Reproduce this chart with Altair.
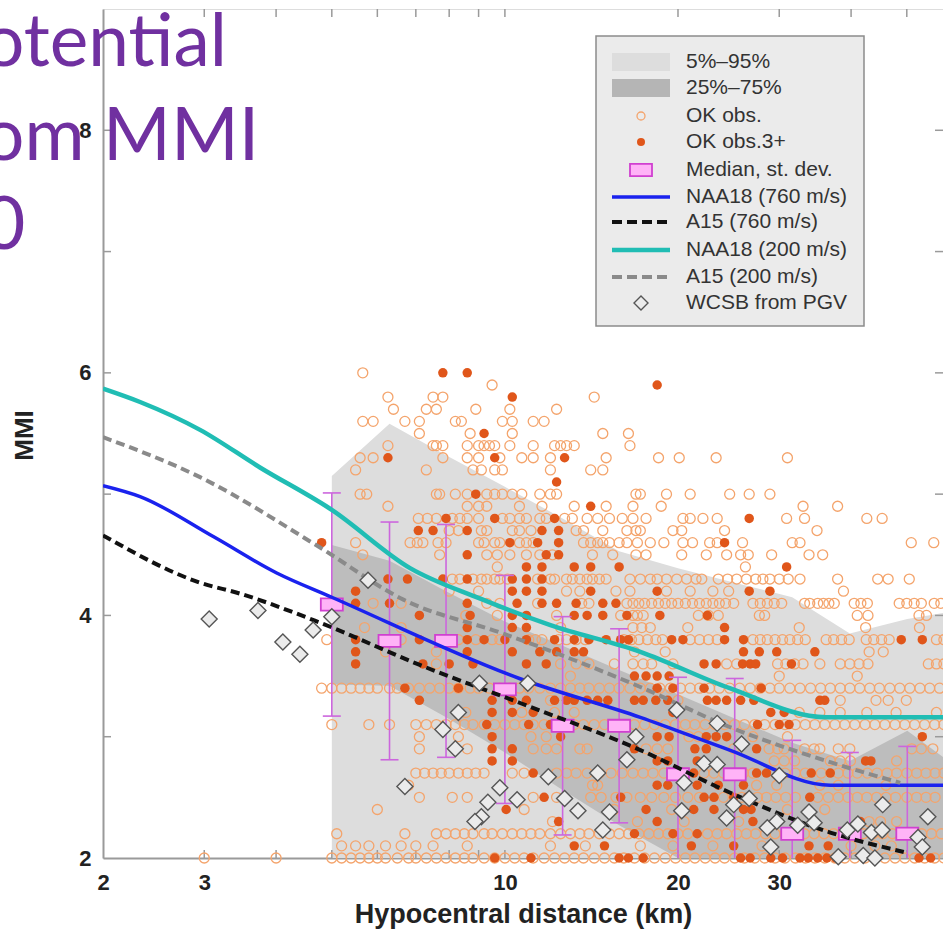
import altair as alt
import pandas as pd

# ---------------- data ----------------
heading_lines = ["otential", "om MMI", "0"]

# percentile bands over log-spaced distance bins (km)
band_km = [5.0, 6.3, 7.9, 10.0, 12.6, 15.8, 20.0, 25.1, 31.6, 39.8, 50.1, 63.1]
band_p05 = [2.0, 2.0, 2.0, 2.0, 2.0, 2.0, 2.0, 2.0, 2.0, 2.0, 2.0, 2.0]
band_p95 = [5.15, 5.58, 5.32, 5.06, 4.80, 4.53, 4.39, 4.27, 4.15, 3.85, 3.97, 4.05]
band_p25 = [3.43, 3.42, 3.16, 2.87, 2.56, 2.27, 2.0, 2.0, 2.0, 2.0, 2.0, 2.0]
band_p75 = [4.58, 4.45, 4.20, 3.95, 3.75, 3.55, 3.35, 3.15, 2.95, 2.80, 3.05, 2.70]

# binned median and standard deviation
median_km = [5.0, 6.3, 7.9, 10.0, 12.6, 15.8, 20.0, 25.1, 31.6, 39.8, 50.1]
median_mmi = [4.09, 3.79, 3.79, 3.39, 3.09, 3.09, 2.69, 2.69, 2.20, 2.20, 2.20]
stdev_mmi = [0.92, 0.98, 0.96, 0.94, 0.90, 0.80, 0.80, 0.79, 0.77, 0.67, 0.72]

# prediction curves
naa18_760_km = [2.0, 2.32, 3.11, 4.01, 5.0, 10.6, 17.2, 24.6, 36.8, 58.0]
naa18_760_mmi = [5.07, 4.98, 4.65, 4.35, 4.15, 3.48, 3.16, 2.89, 2.60, 2.60]
a15_760_km = [2.0, 2.95, 3.46, 4.77, 7.13, 10.6, 17.2, 24.6, 36.8, 49.4]
a15_760_mmi = [4.66, 4.27, 4.18, 3.94, 3.59, 3.28, 2.89, 2.54, 2.21, 2.05]
naa18_200_km = [2.0, 2.32, 2.95, 3.75, 5.0, 6.84, 9.04, 12.0, 17.2, 24.6, 36.2, 58.0]
naa18_200_mmi = [5.87, 5.76, 5.53, 5.22, 4.87, 4.39, 4.14, 3.92, 3.70, 3.40, 3.16, 3.16]
a15_200_km = [2.0, 2.95, 4.77, 6.66, 9.94, 17.2, 24.6, 36.8, 48.7]
a15_200_mmi = [5.47, 5.14, 4.56, 4.13, 3.85, 3.41, 3.08, 2.79, 2.62]

# WCSB intensities converted from PGV
wcsb_km = [3.06, 3.72, 4.11, 4.40, 4.64, 5.0, 5.78, 9.03, 8.3, 7.8, 8.2, 6.7, 10.96,
           9.8, 9.34, 9.1, 8.87, 10.5, 11.9, 12.7, 13.4, 14.5, 16.3, 15.2, 14.8,
           16.9, 19.9, 23.4, 25.8, 30.0, 22.2, 23.4, 20.5, 25.0, 26.6, 20.3, 24.3,
           33.8, 45.4, 54.4, 29.7, 28.6, 32.3, 34.5, 41.1, 39.4, 43.4, 45.3, 52.3,
           53.2, 29.0, 38.0, 42.0, 44.0]
wcsb_mmi = [3.97, 4.04, 3.78, 3.68, 3.88, 3.99, 4.29, 3.44, 3.2, 3.06, 2.9, 2.59, 3.44,
            2.58, 2.46, 2.34, 2.3, 2.48, 2.67, 2.49, 2.39, 2.7, 2.81, 2.38, 2.23,
            3.0, 3.22, 3.11, 2.94, 2.68, 2.78, 2.77, 2.62, 2.44, 2.49, 2.39, 2.33,
            2.38, 2.44, 2.34, 2.3, 2.25, 2.27, 2.29, 2.28, 2.23, 2.21, 2.23, 2.17,
            2.09, 2.09, 2.01, 2.02, 2.0]

# OK observations: MMI level -> hypocentral distances (km)
ok_obs = {
    2.0: [3.0, 4.0, 5.0, 5.2, 5.4, 5.6, 5.8, 6.0, 6.2, 6.5, 6.8, 7.0, 7.3, 7.6, 7.9, 8.2,
          8.5, 8.8, 9.2, 9.6, 10.0, 10.4, 10.8, 11.2, 11.7, 12.2, 12.7, 13.2, 13.7, 14.3,
          14.9, 15.5, 16.1, 16.8, 17.5, 18.2, 19.0, 19.8, 20.6, 21.4, 22.3, 23.2, 24.1,
          25.1, 26.1, 27.2, 28.3, 29.5, 30.7, 32.0, 33.3, 34.6, 36.0, 37.5, 39.0, 40.6,
          42.3, 44.0, 45.8, 47.7, 49.6, 51.6, 53.7, 55.9, 58.0],
    2.1: [5.2, 5.5, 5.8, 6.2, 6.6, 7.0, 7.5, 8.6, 12.0, 13.8, 17.2, 19.6, 23.0, 28.0,
          40.0, 44.0, 47.0],
    2.2: [5.1, 6.7, 7.6, 7.9, 8.2, 8.5, 8.8, 9.2, 9.5, 9.9, 10.3, 10.7, 11.1, 11.5, 12.0,
          12.5, 13.0, 13.5, 14.0, 14.6, 15.2, 15.8, 16.4, 17.1, 17.8, 18.5, 19.2, 20.0,
          20.8, 22.5, 23.4, 24.3, 25.3, 26.3, 27.3, 28.4, 29.5, 30.7, 31.9, 33.2, 34.5,
          35.9, 37.3, 38.8, 40.4, 42.0, 43.7, 45.4, 47.2, 49.1, 51.1, 53.1, 55.2, 57.4],
    2.3: [12.1, 17.0, 20.5, 25.5, 43.0, 45.0, 48.0],
    2.4: [6.0, 10.8, 15.5, 19.5, 31.0, 36.0],
    2.5: [7.1, 8.1, 8.6, 11.2, 12.3, 14.1, 14.7, 15.6, 16.3, 17.2, 18.0, 18.9, 19.8, 20.8,
          21.8, 24.0, 25.8, 27.5, 28.5, 29.6, 30.8, 32.0, 35.0, 36.5, 38.0, 39.5, 41.0,
          42.6, 44.3, 46.0, 47.8, 50.0, 52.0, 54.0, 56.0],
    2.6: [6.8, 14.2, 14.5, 27.4, 29.7, 35.3, 38.0, 46.0],
    2.7: [7.0, 7.25, 7.5, 7.75, 8.0, 8.3, 8.6, 8.9, 9.2, 10.3, 10.8, 12.3, 12.8, 13.3,
          13.9, 14.6, 15.3, 16.0, 16.7, 17.4, 18.1, 18.9, 19.7, 20.5, 22.2, 23.1, 24.0,
          25.0, 26.0, 27.0, 29.5, 30.7, 32.0, 33.3, 35.5, 38.0, 39.5, 41.0, 42.7, 44.4,
          46.2, 48.0, 50.0, 52.0, 54.0, 56.0, 58.0],
    2.8: [29.4, 30.6, 31.9, 36.8, 38.3, 39.9, 48.0],
    2.9: [7.1, 8.6, 11.2, 11.8, 12.3, 13.5, 13.9, 17.6, 18.4, 19.2, 25.0, 28.8, 29.8,
          30.6, 33.2, 34.5, 35.3, 38.0, 39.8, 51.0, 53.0, 55.5],
    3.0: [7.1, 8.3, 11.1, 11.8, 20.9, 21.7, 27.0, 31.0],
    3.1: [5.0, 5.8, 6.3, 7.0, 7.3, 7.6, 7.9, 8.2, 8.5, 8.8, 9.2, 9.6, 10.0, 10.4, 10.8,
          11.2, 11.7, 12.2, 12.7, 13.2, 13.7, 14.3, 14.9, 15.5, 16.1, 16.8, 17.5, 18.2,
          19.0, 19.8, 20.6, 21.4, 22.3, 23.2, 24.1, 25.1, 26.1, 27.2, 28.3, 29.5, 30.7,
          32.0, 33.3, 34.6, 36.0, 37.5, 39.0, 40.6, 42.3, 44.0, 45.8, 47.7, 49.6, 51.6,
          53.7, 55.9, 58.0],
    3.2: [8.55, 10.7, 12.2, 13.2, 32.5, 35.3, 38.3, 42.6, 47.9, 56.3],
    3.3: [12.0, 20.0, 38.3, 44.2, 46.4, 49.9],
    3.4: [4.8, 5.0, 5.2, 5.4, 5.6, 5.8, 6.0, 6.3, 6.5, 6.8, 7.1, 7.4, 7.7, 8.0, 8.3, 8.7,
          9.0, 9.4, 9.8, 10.2, 10.6, 11.0, 11.5, 12.0, 12.5, 13.0, 13.5, 14.0, 14.6,
          15.2, 15.8, 16.5, 17.2, 17.9, 18.6, 19.4, 20.2, 21.0, 21.8, 22.7, 23.6, 24.6,
          25.6, 26.7, 27.8, 28.9, 30.0, 31.3, 32.6, 34.0, 35.4, 36.8, 38.3, 39.8, 41.4,
          43.1, 44.8, 46.7, 48.6, 50.6, 52.7, 54.8, 57.0],
    3.5: [13.0, 30.0, 41.0],
    3.6: [7.6, 12.5, 13.3, 14.0, 15.5, 16.7, 17.4, 18.0, 19.6, 24.3, 25.3, 29.8, 30.8,
          31.9, 33.0, 35.3, 38.3, 39.8, 41.3, 42.8, 54.5, 56.3, 58.0],
    3.7: [6.2, 7.6, 16.8, 19.0, 43.0, 45.5],
    3.8: [4.9, 6.6, 8.3, 8.9, 9.5, 9.8, 11.0, 11.3, 11.6, 12.4, 12.8, 13.3, 13.8, 16.1,
          16.6, 17.1, 17.7, 18.3, 18.8, 21.0, 21.8, 22.6, 23.4, 27.0, 27.8, 28.6, 29.5,
          30.4, 31.3, 32.3, 33.3, 36.2, 37.3, 38.5, 39.7, 42.5, 43.8, 45.2, 46.6, 56.3,
          58.0],
    3.9: [5.7, 6.6, 12.5, 16.7, 17.3, 17.9, 20.8, 32.5, 42.4, 52.6],
    4.0: [8.55, 9.7, 12.3, 15.9, 16.7, 17.0, 17.4, 21.7, 22.6, 23.5, 27.7, 28.3, 41.0,
          42.8, 52.5, 54.1],
    4.1: [5.9, 6.6, 9.3, 9.8, 11.4, 13.6, 14.0, 16.3, 16.7, 17.1, 17.5, 18.0, 18.5, 19.0,
          19.5, 20.0, 20.6, 21.2, 21.8, 22.4, 23.0, 23.6, 24.2, 25.0, 27.0, 27.8, 28.6,
          29.4, 30.3, 33.2, 33.9, 35.0, 35.8, 36.6, 37.4, 40.5, 41.6, 42.7, 48.5, 50.0,
          51.5, 53.0, 55.8, 57.3],
    4.2: [8.0, 9.0, 12.8, 13.5, 15.6, 16.5, 19.1, 21.0, 23.0, 24.5, 38.8],
    4.3: [8.1, 8.35, 8.8, 9.1, 9.3, 9.6, 9.8, 10.1, 11.4, 12.0, 12.2, 12.8, 13.1, 13.5,
          13.9, 14.2, 14.6, 15.0, 16.5, 17.2, 17.9, 18.4, 19.1, 19.9, 20.7, 21.5, 22.0,
          23.5, 24.4, 25.3, 26.3, 27.3, 28.1, 28.9, 30.0, 31.1, 32.6, 37.9, 44.5, 46.4,
          50.5],
    4.4: [9.7, 26.2],
    4.5: [5.66, 7.7, 9.3, 9.7, 10.2, 10.9, 11.5, 12.1, 14.2, 15.4, 16.9, 17.6, 20.3,
          22.4, 24.3, 25.7, 26.5, 29.1, 33.8, 35.7],
    4.6: [5.5, 6.84, 7.04, 7.2, 7.65, 7.9, 9.0, 9.2, 9.6, 9.8, 10.6, 10.9, 11.2, 13.7,
          14.1, 14.5, 14.8, 15.2, 15.8, 16.3, 17.0, 17.9, 18.9, 20.4, 21.2, 22.7, 23.4,
          25.9, 31.6, 32.6, 50.9, 55.7],
    4.7: [8.0, 8.3, 9.1, 9.3, 10.3, 10.6, 11.1, 13.3, 13.7, 14.8, 16.3, 16.9, 17.2, 19.6,
          20.3, 24.1, 34.9],
    4.8: [7.07, 7.33, 7.6, 8.1, 8.35, 8.6, 9.0, 9.9, 10.2, 10.6, 10.9, 11.5, 11.8, 12.7,
          13.1, 13.9, 14.5, 15.2, 16.0, 16.7, 17.6, 20.4, 21.0, 22.1, 23.4, 30.9, 33.2,
          42.6, 45.3],
    4.9: [6.26, 8.6, 9.0, 9.3, 10.6, 11.6, 13.2, 15.0, 16.7, 18.7, 33.0, 37.9],
    5.0: [5.6, 5.75, 7.6, 7.7, 8.2, 8.6, 9.3, 9.6, 9.9, 10.3, 10.7, 11.5, 12.0, 12.3,
          16.9, 17.2, 19.1, 21.0, 24.6, 26.6, 28.9],
    5.2: [5.5, 7.3, 8.8, 9.1, 9.6, 9.9, 12.0, 14.1, 14.8],
    5.3: [5.6, 5.9, 7.8, 8.6, 9.0, 9.8, 10.7, 11.2, 12.0, 15.0, 18.5, 20.1, 23.3, 31.0],
    5.4: [6.26, 7.5, 7.6, 7.8, 8.6, 9.0, 9.2, 9.4, 9.6, 10.2, 11.2, 12.2, 12.5, 12.8,
          13.2, 16.5],
    5.5: [7.1, 8.7, 10.3, 14.8, 16.4],
    5.6: [5.66, 5.9, 6.7, 7.1, 8.2, 8.4, 9.9, 10.3, 11.2, 11.7],
    5.7: [6.4, 7.3, 7.6, 8.9, 10.2, 12.3],
    5.8: [6.26, 7.5, 7.8, 14.3],
    5.9: [9.5],
    6.0: [5.66],
}

# OK observations from 3+ events: MMI level -> hypocentral distances (km)
ok_obs_3plus = {
    2.0: [9.6, 11.1, 15.8, 16.4, 17.4, 25.7, 26.7, 29.0, 30.4, 32.6, 33.7, 35.0, 36.3,
          37.6, 52.5, 55.0],
    2.1: [13.2, 14.9, 21.1, 25.0, 33.8, 36.5],
    2.2: [16.8, 19.6, 21.6],
    2.3: [12.4, 18.4, 27.0, 41.5],
    2.4: [10.05, 17.6, 21.3, 23.1, 26.0, 26.8],
    2.5: [11.7, 15.9, 22.2, 23.1, 25.0, 26.4, 33.9],
    2.6: [18.4, 19.2, 21.6, 23.5, 26.0],
    2.7: [11.2, 14.5, 21.3, 27.4, 28.5, 34.1, 36.8],
    2.8: [9.5, 10.3, 18.4, 19.2, 21.6, 42.4, 43.3],
    2.9: [9.5, 10.3, 16.8, 21.4, 22.4, 27.4],
    3.0: [9.5, 12.5, 18.4, 19.3, 22.4, 23.3, 24.3, 53.2],
    3.1: [9.3, 11.0, 12.0, 27.5, 30.0, 31.2],
    3.2: [9.5, 10.3, 11.2, 19.6, 29.0, 30.6],
    3.3: [7.1, 9.5, 10.3, 10.9, 12.2, 12.8, 13.2, 13.9, 14.5, 15.1, 16.8, 17.4, 18.3,
          19.2, 22.5, 23.3, 24.3, 25.7, 27.1, 35.3, 36.0],
    3.4: [6.7, 8.3, 18.4, 19.6, 22.2, 27.9],
    3.5: [16.8, 17.6, 18.4, 19.3],
    3.6: [5.5, 7.2, 8.0, 8.8, 10.9, 11.8, 22.2, 23.3, 25.9, 26.7, 27.3, 31.5],
    3.7: [5.5, 8.6, 10.3, 11.5, 12.3, 13.2, 13.7, 26.0, 27.7, 29.7, 34.6],
    3.8: [5.5, 7.1, 8.6, 9.2, 10.0, 10.9, 12.2, 13.2, 14.0, 15.0, 15.9, 16.4, 19.5,
          20.4, 24.1, 26.0, 48.9, 53.2],
    3.9: [8.6, 10.3, 10.9, 24.1],
    4.0: [7.1, 8.7, 10.3, 10.9, 13.2, 13.9, 14.8, 16.3, 18.6, 22.5],
    4.1: [5.5, 6.3, 8.6, 10.5, 11.6, 12.3, 13.3, 14.8, 15.6],
    4.2: [5.5, 10.3, 10.9, 11.6, 14.1, 18.4, 26.6, 28.9],
    4.3: [6.26, 6.77, 7.8, 8.6, 10.3, 10.9, 11.6],
    4.4: [10.9, 11.6, 13.2, 14.1, 15.8, 30.9],
    4.5: [8.6, 11.8, 12.4],
    4.6: [4.8, 10.2, 11.4, 12.4, 24.1],
    4.7: [7.07, 7.5, 8.6, 11.6, 12.4],
    4.8: [7.9, 9.6, 12.2, 26.6],
    4.9: [14.1],
    5.0: [8.9],
    5.1: [12.3],
    5.3: [6.26, 9.6, 12.7],
    5.5: [9.2],
    5.8: [10.3],
    5.9: [18.4],
    6.0: [7.8, 8.6],
}

legend_labels = ["5%\u201395%", "25%\u201375%", "OK obs.", "OK obs.3+", "Median, st. dev.",
                 "NAA18 (760 m/s)", "A15 (760 m/s)", "NAA18 (200 m/s)", "A15 (200 m/s)",
                 "WCSB from PGV"]

x_ticks = [3, 4, 5, 6, 7, 8, 9, 10, 20, 30, 40, 50]
y_ticks = [3, 4, 5, 6, 7, 8]

# ---------------- styling ----------------
W, H = 840, 849
FONT = "Liberation Sans"
AXIS_GREY = "#9a9a9a"
C_OPEN = "#F4A46C"
C_FILL = "#E0561A"
C_BLUE = "#1A22EE"
C_CYAN = "#20BDB4"
C_BLACK = "#111111"
C_GREY = "#8a8a8a"
C_VIOLET = "#CC66DD"

xs = alt.Scale(type="log", domain=[2, 57.8], nice=False)
ys = alt.Scale(domain=[2, 9], nice=False, zero=False)

x_axis = alt.Axis(values=[2, 3, 10, 20, 30], format="d", labelFontSize=22,
                  labelFontWeight="bold", labelColor="#222", labelPadding=14,
                  labelFlush=False, ticks=False, tickSize=0, grid=False,
                  domainColor=AXIS_GREY, domainWidth=2,
                  title="Hypocentral distance (km)", titleFontSize=27,
                  titleFontWeight="bold", titleColor="#222", titleY=64,
                  titleBaseline="alphabetic")
y_axis = alt.Axis(values=[2, 4, 6, 8], format="d", labelFontSize=22,
                  labelFontWeight="bold", labelColor="#222", labelPadding=12,
                  ticks=False, tickSize=0, grid=False,
                  domainColor=AXIS_GREY, domainWidth=2,
                  title="MMI", titleFontSize=26, titleFontWeight="bold",
                  titleColor="#222", titleAngle=270, titleX=-79, titleY=426,
                  titleAlign="center", titleBaseline="middle")

# ---------------- tables ----------------
bands = pd.DataFrame({"km": band_km, "p05": band_p05, "p95": band_p95,
                      "p25": band_p25, "p75": band_p75})
med = pd.DataFrame({"km": median_km, "mmi": median_mmi, "sd": stdev_mmi})
med["lo"] = med["mmi"] - med["sd"]
med["hi"] = med["mmi"] + med["sd"]
open_pts = pd.DataFrame([(k, lvl) for lvl, ks in ok_obs.items() for k in ks],
                        columns=["km", "mmi"])
fill_pts = pd.DataFrame([(k, lvl) for lvl, ks in ok_obs_3plus.items() for k in ks],
                        columns=["km", "mmi"])
wcsb = pd.DataFrame({"km": wcsb_km, "mmi": wcsb_mmi})
one = pd.DataFrame({"k": [0]})


def curve(km, mmi):
    return pd.DataFrame({"km": km, "mmi": mmi})


# every layer carries the same axis definition so the merged axes stay intact
def X(f="km"):
    return alt.X(f"{f}:Q", scale=xs, axis=x_axis)


def Y(f="mmi"):
    return alt.Y(f"{f}:Q", scale=ys, axis=y_axis)


# ---------------- layers ----------------
light = alt.Chart(bands).mark_area(color="#DDDDDD", clip=True).encode(
    x=X(), y=Y("p95"), y2="p05:Q")
dark = alt.Chart(bands).mark_area(color="#BDBDBD", clip=True).encode(
    x=X(), y=Y("p75"), y2="p25:Q")

tick_x = pd.DataFrame({"t": x_ticks})
tick_y = pd.DataFrame({"t": y_ticks})
tick_style = dict(color=AXIS_GREY, strokeWidth=1.5)
ticks = [
    alt.Chart(tick_x).mark_rule(**tick_style).encode(x=X("t"), y=alt.value(H), y2=alt.value(H - 8)),
    alt.Chart(tick_x).mark_rule(**tick_style).encode(x=X("t"), y=alt.value(0), y2=alt.value(8)),
    alt.Chart(tick_y).mark_rule(**tick_style).encode(y=Y("t"), x=alt.value(0), x2=alt.value(8)),
    alt.Chart(tick_y).mark_rule(**tick_style).encode(y=Y("t"), x=alt.value(W), x2=alt.value(W - 8)),
]

obs_open = alt.Chart(open_pts).mark_point(shape="circle", filled=False, size=100,
                                          strokeWidth=1.3, color=C_OPEN, opacity=1).encode(x=X(), y=Y())
obs_fill = alt.Chart(fill_pts).mark_circle(size=90, color=C_FILL, opacity=1).encode(x=X(), y=Y())

err = alt.Chart(med).mark_rule(color=C_VIOLET, strokeWidth=1.6, clip=True).encode(
    x=X(), y=Y("lo"), y2="hi:Q")
cap_shape = "M-1,0L1,0"
cap_hi = alt.Chart(med).mark_point(shape=cap_shape, size=324, strokeWidth=1.6, color=C_VIOLET,
                                   opacity=1, clip=True).encode(x=X(), y=Y("hi"))
cap_lo = alt.Chart(med).mark_point(shape=cap_shape, size=324, strokeWidth=1.6, color=C_VIOLET,
                                   opacity=1, clip=True).encode(x=X(), y=Y("lo"))
box_shape = "M-1,-0.55L1,-0.55L1,0.55L-1,0.55Z"
boxes = alt.Chart(med).mark_point(shape=box_shape, size=484, filled=True, fill="#FFB3F7",
                                  stroke="#D040D0", strokeWidth=1.8, opacity=1).encode(x=X(), y=Y())


def line(km, mmi, color, width, dash=None):
    kw = dict(color=color, strokeWidth=width, interpolate="monotone", clip=True)
    if dash:
        kw["strokeDash"] = dash
    return alt.Chart(curve(km, mmi)).mark_line(**kw).encode(x=X(), y=Y())


l_blue = line(naa18_760_km, naa18_760_mmi, C_BLUE, 3.5)
l_black = line(a15_760_km, a15_760_mmi, C_BLACK, 4, [9, 5])
l_cyan = line(naa18_200_km, naa18_200_mmi, C_CYAN, 4.5)
l_grey = line(a15_200_km, a15_200_mmi, C_GREY, 4, [9, 5])

diamonds = alt.Chart(wcsb).mark_point(shape="diamond", size=256, filled=True, fill="#EBEBEB",
                                      stroke="#555555", strokeWidth=1.4, opacity=1).encode(x=X(), y=Y())

# ---------------- legend ----------------
row_y = [53, 79, 107, 133, 161, 188, 213, 241, 268, 294]
lx0, lx1, lxc, ltx = 509, 567, 538, 583
legend = [alt.Chart(one).mark_rect(fill="#EBEBEB", stroke="#8C8C8C", strokeWidth=1.5).encode(
    x=alt.value(493), x2=alt.value(761), y=alt.value(27), y2=alt.value(317))]
legend.append(alt.Chart(one).mark_rect(fill="#DDDDDD").encode(
    x=alt.value(lx0), x2=alt.value(lx1), y=alt.value(row_y[0] - 9), y2=alt.value(row_y[0] + 9)))
legend.append(alt.Chart(one).mark_rect(fill="#B5B5B5").encode(
    x=alt.value(lx0), x2=alt.value(lx1), y=alt.value(row_y[1] - 9), y2=alt.value(row_y[1] + 9)))
legend.append(alt.Chart(one).mark_point(shape="circle", filled=False, size=64, strokeWidth=1.3,
                                        color=C_OPEN, opacity=1).encode(
    x=alt.value(lxc), y=alt.value(row_y[2])))
legend.append(alt.Chart(one).mark_circle(size=64, color=C_FILL, opacity=1).encode(
    x=alt.value(lxc), y=alt.value(row_y[3])))
legend.append(alt.Chart(one).mark_point(shape=box_shape, size=484, filled=True, fill="#FFB3F7",
                                        stroke="#D040D0", strokeWidth=1.8, opacity=1).encode(
    x=alt.value(lxc), y=alt.value(row_y[4])))
for i, (col, wdt, dash) in zip(range(5, 9), [(C_BLUE, 3.5, None), (C_BLACK, 4, [10, 5]),
                                              (C_CYAN, 4.5, None), (C_GREY, 4, [10, 5])]):
    kw = dict(color=col, strokeWidth=wdt)
    if dash:
        kw["strokeDash"] = dash
    legend.append(alt.Chart(one).mark_rule(**kw).encode(
        x=alt.value(lx0), x2=alt.value(lx1), y=alt.value(row_y[i])))
legend.append(alt.Chart(one).mark_point(shape="diamond", size=196, filled=True, fill="#EBEBEB",
                                        stroke="#555555", strokeWidth=1.4, opacity=1).encode(
    x=alt.value(lxc), y=alt.value(row_y[9])))
for label, yy in zip(legend_labels, row_y):
    legend.append(alt.Chart(one).mark_text(align="left", baseline="middle", font=FONT,
                                           fontSize=21, color="#333333").encode(
        x=alt.value(ltx), y=alt.value(yy), text=alt.value(label)))

# ---------------- heading overlay ----------------
heading = []
for txt, yy in zip(heading_lines, [57, 151, 240]):
    heading.append(alt.Chart(one).mark_text(align="left", baseline="alphabetic", font="Lato",
                                            fontSize=73, color="#7030A0").encode(
        x=alt.value(-120), y=alt.value(yy), text=alt.value(txt)))

chart = alt.layer(
    light, dark, *ticks, obs_open, obs_fill, err, cap_hi, cap_lo, boxes,
    l_blue, l_black, l_cyan, l_grey, diamonds, *legend, *heading
).properties(
    width=W, height=H,
    autosize=alt.AutoSizeParams(type="none"),
    padding={"left": 103, "top": 9, "right": 0, "bottom": 74},
).configure_view(stroke=AXIS_GREY, strokeWidth=2).configure_axis(
    labelFont=FONT, titleFont=FONT
).configure(background="white")

chart.save("out.html", embed_options={"renderer": "svg", "actions": False})
